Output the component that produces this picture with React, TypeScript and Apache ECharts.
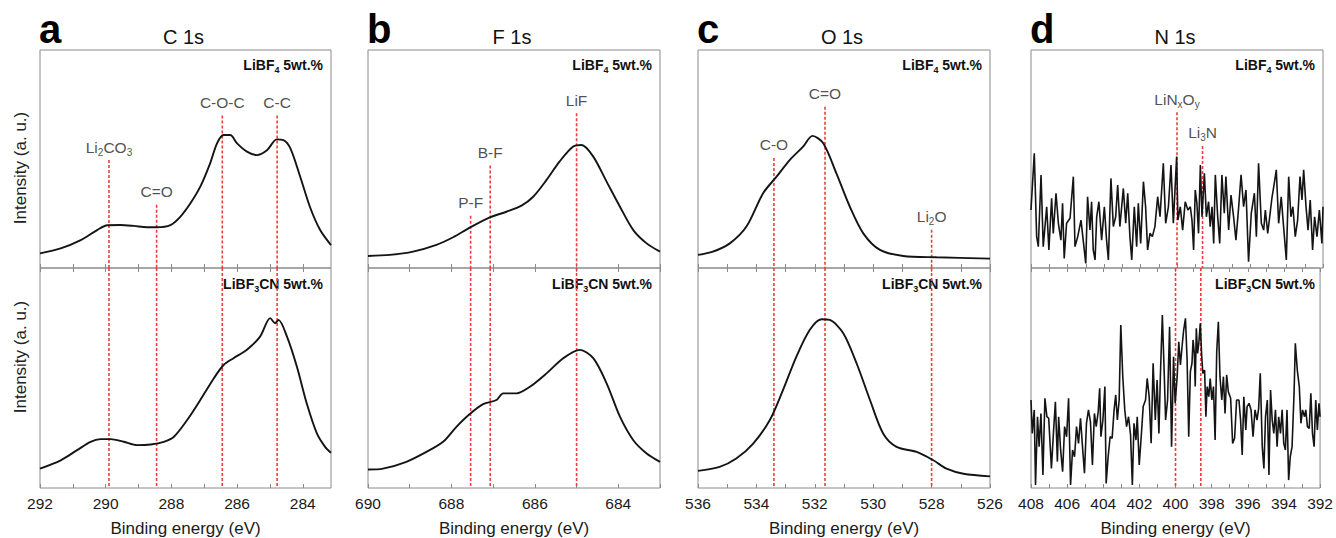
import React, { useEffect, useRef } from "react";
import * as echarts from "echarts";

const FONT = 'Arial, "Liberation Sans", Helvetica, sans-serif';

// ---------- data (binding energy eV, intensity a.u.) ----------
const c1sTop: [number, number][] = [
  [292.0, 6.7], [291.37, 9], [290.76, 12.8], [290.26, 17.4], [289.95, 19.6], [289.55, 19.7], [289.14, 19.3],
  [288.74, 18.7], [288.44, 18.7], [288.03, 19.7], [287.73, 23.5], [287.42, 29.7], [287.12, 37.3], [286.82, 48],
  [286.61, 57.2], [286.41, 61], [286.21, 61], [286.0, 57.2], [285.7, 53.4], [285.4, 51.8], [285.09, 54],
  [284.79, 59], [284.59, 58.7], [284.38, 55], [284.08, 42], [283.78, 28], [283.47, 17.4], [283.14, 10.5],
];
const c1sBottom: [number, number][] = [
  [292, 8.8], [291.37, 12.6], [290.87, 17.2], [290.46, 21], [290.16, 22.2], [289.85, 22.2], [289.45, 21],
  [289.04, 19.5], [288.63, 19.8], [288.23, 21], [287.93, 23.2], [287.52, 30.9], [287.12, 40], [286.71, 49.8],
  [286.41, 55.9], [286.11, 59], [285.7, 62.8], [285.3, 68.8], [284.99, 77.2], [284.84, 74.9], [284.74, 76.4],
  [284.48, 68.8], [284.18, 55.2], [283.88, 38.5], [283.57, 24.8], [283.32, 18.7], [283.14, 16],
];
const f1sTop: [number, number][] = [
  [690, 5.5], [689.48, 6], [688.92, 7.5], [688.36, 10.6], [687.96, 14.1], [687.56, 18.5], [687.08, 23.2],
  [686.68, 25.8], [686.32, 28.6], [686.04, 32.7], [685.72, 40.4], [685.4, 49], [685.08, 55.7], [684.88, 56.4],
  [684.6, 51.1], [684.28, 39.6], [683.96, 28.1], [683.64, 17.4], [683.32, 11.3], [683, 7.5],
];
const f1sBottom: [number, number][] = [
  [690, 8.4], [689.64, 8.8], [689.08, 11.9], [688.6, 16.4], [688.2, 21], [687.88, 27.8], [687.56, 33.6],
  [687.24, 38.1], [686.92, 40], [686.76, 43], [686.44, 43], [686.12, 46], [685.72, 52.1], [685.32, 59],
  [684.92, 62.8], [684.6, 59], [684.28, 47.6], [683.96, 32.4], [683.64, 21.7], [683.32, 15.7], [683, 11.9],
];
const o1sTop: [number, number][] = [
  [536, 6], [535.49, 7.5], [534.91, 11.3], [534.34, 19], [533.77, 34.3], [533.31, 41.9], [532.86, 49.5],
  [532.4, 55.7], [532.08, 60.6], [531.71, 57.2], [531.26, 43.4], [530.8, 28.1], [530.34, 15.9], [529.77, 8.3],
  [528.97, 5.5], [527.83, 4.9], [526, 4.3],
];
const o1sBottom: [number, number][] = [
  [536, 7.8], [535.26, 9.6], [534.69, 13.4], [534.11, 20.2], [533.54, 30.9], [533.09, 44.5], [532.63, 59.7],
  [532.17, 71.9], [531.77, 76.7], [531.49, 76.4], [531.03, 70.4], [530.57, 56.7], [530.11, 40], [529.66, 24.8],
  [529.2, 18.7], [528.51, 16.4], [527.94, 12.6], [527.49, 8.8], [526.91, 6.5], [526, 5.3],
];
const n1sTop: [number, number][] = [
  [408.0, 26.6], [407.82, 52.6], [407.69, 14.4], [407.6, 9.8], [407.45, 42.7], [407.33, 9.8], [407.14, 28.1],
  [407.02, 8.3], [406.87, 32], [406.78, 15.9], [406.63, 34.3], [406.5, 20.5], [406.36, 12.8], [406.27, 29.7],
  [406.18, 4.4], [406.05, 20.5], [405.86, 22.8], [405.68, 41.9], [405.59, 9.8], [405.44, 14.4], [405.26, 22],
  [405.14, 12.8], [405.0, 2.1], [404.9, 32.7], [404.77, 17.4], [404.68, 30.4], [404.59, 8.3], [404.49, 3.7],
  [404.4, 23.5], [404.28, 30.4], [404.13, 12.8], [403.98, 28.1], [403.86, 12.8], [403.76, 3.7], [403.62, 41.1],
  [403.49, 19], [403.36, 23.5], [403.25, 38.1], [403.13, 19], [402.94, 36.5], [402.81, 20.5], [402.7, 34.3],
  [402.58, 14.4], [402.48, 3.7], [402.34, 28.1], [402.21, 9.8], [402.12, 29.7], [401.99, 11.3], [401.84, 39.6],
  [401.72, 28.1], [401.61, 8.3], [401.48, 15.9], [401.35, 14.4], [401.21, 19], [401.06, 32.7], [400.93, 23.5],
  [400.75, 48], [400.62, 20.5], [400.47, 28.1], [400.33, 47.2], [400.2, 20.5], [400.02, 51.1],
  [399.95, 22], [399.82, 28.1], [399.69, 17.4], [399.55, 30.4], [399.4, 26.6], [399.27, 28.1], [399.18, 22],
  [399.09, 8.3], [399.0, 35.8], [398.91, 29.7], [398.82, 15.9], [398.72, 47.2], [398.63, 23.5], [398.5, 43.4],
  [398.39, 23.5], [398.27, 30.4], [398.18, 19], [398.08, 28.1], [397.99, 11.3], [397.9, 42.7], [397.77, 23.5],
  [397.66, 11.3], [397.54, 42.7], [397.41, 25.1], [397.32, 41.9], [397.17, 17.4], [397.04, 33.5], [396.9, 23.5],
  [396.77, 12.8], [396.62, 28.1], [396.49, 42.7], [396.35, 28.1], [396.22, 35.8], [396.08, 2.9], [395.93, 25.1],
  [395.76, 34.3], [395.65, 14.4], [395.53, 48], [395.38, 20.5], [395.25, 17.4], [395.16, 26.6], [395.03, 15.9],
  [394.92, 23.5], [394.8, 32], [394.67, 38.8], [394.56, 45], [394.43, 20.5], [394.29, 32.7], [394.16, 19],
  [394.01, 3.7], [393.88, 41.9], [393.76, 23.5], [393.65, 28.1], [393.52, 14.4], [393.39, 22], [393.26, 41.9],
  [393.15, 31.2], [393.06, 45], [392.93, 28.1], [392.82, 17.4], [392.7, 31.2], [392.57, 8.3], [392.46, 23.5],
  [392.33, 14.4], [392.2, 26.6], [392.06, 11.3], [392.0, 28.1],
];
const n1sBottom: [number, number][] = [
  [408.0, 40], [407.93, 24.8], [407.82, 35.5], [407.75, 1.4], [407.64, 32.4], [407.55, 18.8], [407.45, 33.9],
  [407.34, 5.9], [407.23, 40.8], [407.12, 32.4], [407.02, 31.7], [406.87, 8.9], [406.76, 24.8], [406.65, 39.2],
  [406.54, 12], [406.47, 32.4], [406.36, 17.3], [406.25, 7.4], [406.14, 27.9], [406.03, 23.3], [405.92, 40.8],
  [405.81, 1.4], [405.7, 17.3], [405.59, 14.2], [405.48, 27.9], [405.37, 20.3], [405.26, 31.7], [405.15, 18.8],
  [405.04, 6.7], [404.93, 29.4], [404.82, 35.5], [404.71, 30.2], [404.6, 10.5], [404.49, 33.9], [404.39, 27.9],
  [404.28, 34.7], [404.2, 45.3], [404.13, 23.3], [404.02, 30.9], [403.91, 46.1], [403.84, 2.1], [403.73, 14.2],
  [403.62, 23.3], [403.51, 22.6], [403.4, 35.5], [403.31, 42.3], [403.22, 30.9], [403.12, 40], [403.03, 74.1],
  [402.92, 50.6], [402.81, 35.5], [402.71, 27.9], [402.6, 32.4], [402.49, 24.1], [402.39, 1.4], [402.3, 29.4],
  [402.19, 21.8], [402.12, 32.4], [402.01, 10.5], [401.9, 23.3], [401.79, 37], [401.66, 40], [401.57, 49.8],
  [401.46, 41.5], [401.35, 20.3], [401.24, 56.7], [401.12, 30.9], [401.02, 49.1], [400.92, 24.8], [400.84, 50.6],
  [400.73, 78.6], [400.62, 50.6], [400.55, 30.9], [400.44, 40], [400.33, 73.3], [400.22, 18.8], [400.11, 59.7],
  [400.02, 38.5], [399.91, 50.6], [399.82, 66.5], [399.73, 55.9], [399.64, 64.2], [399.55, 71.8], [399.45, 77.1],
  [399.36, 58.2], [399.27, 23.3], [399.18, 52.9], [399.09, 56.7], [399.03, 67.3], [398.96, 61.2], [398.91, 46.1],
  [398.85, 72.6], [398.78, 61.2], [398.71, 65.8], [398.63, 74.9], [398.56, 61.2], [398.49, 52.1], [398.39, 53.6],
  [398.32, 32.4], [398.25, 46.1], [398.16, 41.5], [398.08, 49.8], [397.99, 40], [397.9, 46.1], [397.81, 21.8],
  [397.72, 62], [397.63, 75.6], [397.54, 50.6], [397.44, 40], [397.35, 50.6], [397.26, 33.9], [397.17, 51.4],
  [397.08, 43.8], [396.95, 40.8], [396.84, 20.3], [396.73, 22.6], [396.62, 40], [396.49, 40], [396.4, 30.9],
  [396.31, 15], [396.22, 41.5], [396.11, 26.4], [396.04, 37], [395.93, 38.5], [395.82, 35.5], [395.71, 23.3],
  [395.6, 35.5], [395.49, 30.9], [395.4, 36.2], [395.31, 52.1], [395.2, 18.8], [395.11, 8.9], [395.02, 32.4],
  [394.92, 40], [394.83, 5.9], [394.74, 44.5], [394.65, 30.9], [394.56, 24.8], [394.47, 35.5], [394.38, 18.8],
  [394.29, 32.4], [394.19, 24.8], [394.1, 35.5], [394.01, 20.3], [393.92, 17.3], [393.83, 35.5], [393.74, 3.6],
  [393.65, 14.2], [393.55, 18.8], [393.44, 43], [393.37, 65.8], [393.26, 53.6], [393.15, 46.1], [393.06, 29.4],
  [392.97, 35.5], [392.86, 32.4], [392.79, 35.5], [392.7, 27.9], [392.6, 27.1], [392.51, 43], [392.42, 24.8],
  [392.33, 18.8], [392.24, 40], [392.15, 26.4], [392.06, 38.5], [392.0, 32.4],
];

// peak reference lines: label (rich text), energy, top of the dashed line (intensity in upper plot)
type Peak = { label: string; energy: number; top: number };
const c1sPeaks: Peak[] = [
  { label: "{tx|Li}{sb|2}{tx|CO}{sb|3}", energy: 289.9, top: 49.5 },
  { label: "{tx|C=O}", energy: 288.45, top: 29 },
  { label: "{tx|C-O-C}", energy: 286.45, top: 70 },
  { label: "{tx|C-C}", energy: 284.78, top: 70 },
];
const f1sPeaks: Peak[] = [
  { label: "{tx|P-F}", energy: 687.54, top: 24 },
  { label: "{tx|B-F}", energy: 687.07, top: 47 },
  { label: "{tx|LiF}", energy: 685.0, top: 71 },
];
const o1sPeaks: Peak[] = [
  { label: "{tx|C-O}", energy: 533.4, top: 50.5 },
  { label: "{tx|C=O}", energy: 531.65, top: 74 },
  { label: "{tx|Li}{sb|2}{tx|O}", energy: 528.0, top: 17.5 },
];
const n1sPeaks: Peak[] = [
  { label: "{tx|LiN}{sb|x}{tx|O}{sb|y}", energy: 400.0, top: 71.5 },
  { label: "{tx|Li}{sb|3}{tx|N}", energy: 398.6, top: 56 },
];

const panelLetters = ["a", "b", "c", "d"];
const panelTitles = ["C 1s", "F 1s", "O 1s", "N 1s"];
const xRanges: [number, number][] = [[283.14, 292], [683, 690], [526, 536], [392, 408]];
const topSeries = [c1sTop, f1sTop, o1sTop, n1sTop];
const bottomSeries = [c1sBottom, f1sBottom, o1sBottom, n1sBottom];
const peakSets = [c1sPeaks, f1sPeaks, o1sPeaks, n1sPeaks];
const topSampleLabel = "{bd|LiBF}{bs|4}{bd| 5wt.%}";
const bottomSampleLabel = "{bd|LiBF}{bs|3}{bd|CN 5wt.%}";
const yName = "Intensity (a. u.)";
const xName = "Binding energy (eV)";

// ---------- layout ----------
const LEFTS = [40, 368, 698, 1031];
const WIDTHS = [291, 292, 292, 292];
const TOP = 50;
const H1 = 218;
const H2 = 220;
const FRAME = "#8a8a8a";
const RED = "#f03c3c";
const INK = "#141414";

function integerTicks(min: number, max: number): number[] {
  const out: number[] = [];
  for (let v = Math.ceil(min - 1e-9); v <= max + 1e-9; v++) out.push(v);
  return out;
}

function buildOption() {
  const grid: any[] = [];
  const xAxis: any[] = [];
  const yAxis: any[] = [];
  const series: any[] = [];
  const graphic: any[] = [];

  const labelRich = {
    tx: { fontSize: 15.5, lineHeight: 20, fontFamily: FONT, color: "#222" },
    sb: { fontSize: 10, lineHeight: 10, fontFamily: FONT, color: "#222", verticalAlign: "bottom" },
  };
  const sampleRich = {
    bd: { fontSize: 14, fontWeight: "bold", lineHeight: 18, fontFamily: FONT },
    bs: { fontSize: 9, fontWeight: "bold", lineHeight: 9, fontFamily: FONT, verticalAlign: "bottom" },
  };
  const dashStyle = { color: RED, type: [3, 2], width: 1.6 };

  for (let i = 0; i < 4; i++) {
    const [min, max] = xRanges[i];
    const ticks = integerTicks(min, max);
    const labels = ticks.filter((v) => v % 2 === 0);
    const left = LEFTS[i];
    const width = WIDTHS[i];

    grid.push({ left, top: TOP, width, height: H1, show: true, borderColor: FRAME, borderWidth: 1 });
    grid.push({ left, top: TOP + H1, width, height: H2, show: true, borderColor: FRAME, borderWidth: 1 });

    const baseX = {
      type: "value",
      min,
      max,
      inverse: true,
      splitLine: { show: false },
      axisLine: { show: false },
      axisTick: { show: true, inside: true, length: 4, customValues: ticks, lineStyle: { color: FRAME, width: 1 } },
    };
    xAxis.push({ ...baseX, gridIndex: 2 * i, position: "bottom", axisLabel: { show: false } });
    xAxis.push({
      ...baseX,
      gridIndex: 2 * i + 1,
      position: "bottom",
      axisLabel: { show: true, customValues: labels, fontSize: 15.5, color: "#1a1a1a", fontFamily: FONT, margin: 7 },
      name: xName,
      nameLocation: "middle",
      nameGap: 32,
      nameTextStyle: { fontSize: 17, color: "#1a1a1a", fontFamily: FONT },
    });
    xAxis.push({ ...baseX, gridIndex: 2 * i + 1, position: "top", axisLabel: { show: false } });

    yAxis.push({ type: "value", gridIndex: 2 * i, min: 0, max: 100, show: false });
    yAxis.push({ type: "value", gridIndex: 2 * i + 1, min: 0, max: 100, show: false });

    const lw = i === 3 ? 1.6 : 1.9;
    const smooth = i === 3 ? false : 0.3;
    series.push({
      type: "line",
      xAxisIndex: 3 * i,
      yAxisIndex: 2 * i,
      data: topSeries[i],
      showSymbol: false,
      symbol: "none",
      smooth,
      silent: true,
      clip: true,
      lineStyle: { color: INK, width: lw },
      z: 5,
    });
    series.push({
      type: "line",
      xAxisIndex: 3 * i + 1,
      yAxisIndex: 2 * i + 1,
      data: bottomSeries[i],
      showSymbol: false,
      symbol: "none",
      smooth,
      silent: true,
      clip: true,
      lineStyle: { color: INK, width: lw },
      z: 5,
    });

    // dashed reference lines through both plots
    const peaks = peakSets[i];
    peaks.forEach((p) => {
      series.push({
        type: "line",
        xAxisIndex: 3 * i,
        yAxisIndex: 2 * i,
        data: [[p.energy, p.top], [p.energy, 0]],
        showSymbol: false,
        symbol: "none",
        silent: true,
        lineStyle: dashStyle,
        z: 2,
      });
      series.push({
        type: "line",
        xAxisIndex: 3 * i + 1,
        yAxisIndex: 2 * i + 1,
        data: [[p.energy, 100], [p.energy, 0]],
        showSymbol: false,
        symbol: "none",
        silent: true,
        lineStyle: dashStyle,
        z: 2,
      });
    });
    // peak labels
    series.push({
      type: "scatter",
      xAxisIndex: 3 * i,
      yAxisIndex: 2 * i,
      symbolSize: 0,
      silent: true,
      itemStyle: { color: "transparent" },
      label: { show: true, position: "top", distance: 3, rich: labelRich },
      data: peaks.map((p) => ({ value: [p.energy, p.top], label: { formatter: p.label } })),
      z: 6,
    });

    // panel letter and title
    graphic.push({
      type: "text",
      x: left - 1,
      y: 29,
      style: { text: panelLetters[i], fontSize: 40, fontWeight: "bold", fontFamily: FONT, fill: "#000", align: "left", verticalAlign: "middle" },
    });
    graphic.push({
      type: "text",
      x: left + width / 2 - 2,
      y: 37,
      style: { text: panelTitles[i], fontSize: 20, fontFamily: FONT, fill: "#111", align: "center", verticalAlign: "middle" },
    });
    graphic.push({
      type: "text",
      x: left + width - 8,
      y: TOP + 15,
      style: { text: topSampleLabel, rich: sampleRich, fill: "#111", align: "right", verticalAlign: "middle" },
    });
    graphic.push({
      type: "text",
      x: left + width - 8,
      y: TOP + H1 + 16,
      style: { text: bottomSampleLabel, rich: sampleRich, fill: "#111", align: "right", verticalAlign: "middle" },
    });
  }

  graphic.push({
    type: "text",
    x: 20,
    y: 168,
    rotation: Math.PI / 2,
    style: { text: yName, fontSize: 17, fontFamily: FONT, fill: "#222", align: "center", verticalAlign: "middle" },
  });
  graphic.push({
    type: "text",
    x: 20,
    y: 357,
    rotation: Math.PI / 2,
    style: { text: yName, fontSize: 17, fontFamily: FONT, fill: "#222", align: "center", verticalAlign: "middle" },
  });

  return {
    animation: false,
    backgroundColor: "#ffffff",
    textStyle: { fontFamily: FONT },
    grid,
    xAxis,
    yAxis,
    series,
    graphic,
  };
}

export default function App() {
  const ref = useRef<HTMLDivElement>(null);
  useEffect(() => {
    if (!ref.current) return;
    const chart = echarts.init(ref.current, undefined, { renderer: "svg" });
    chart.setOption(buildOption() as any);
    return () => chart.dispose();
  }, []);
  return (
    <div
      ref={ref}
      style={{ position: "fixed", left: 0, top: 0, width: 1336, height: 538, background: "#fff" }}
    />
  );
}
